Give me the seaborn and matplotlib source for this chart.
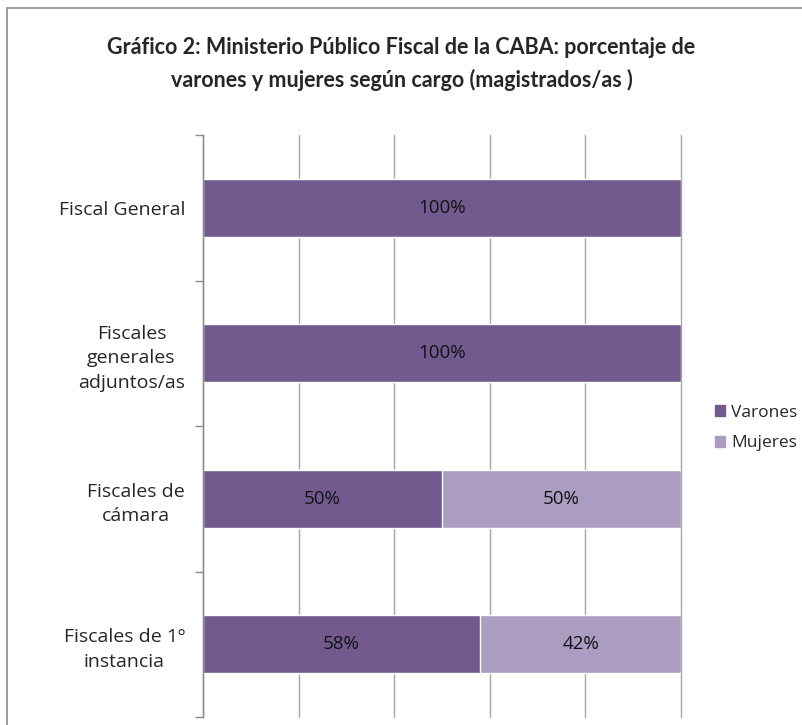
import pandas as pd
import numpy as np
import matplotlib
matplotlib.use("Agg")
import matplotlib.pyplot as plt
import seaborn as sns
from matplotlib.patches import Rectangle, Patch

# Data
cargos = ["Fiscal General",
          "Fiscales\ngenerales\nadjuntos/as",
          "Fiscales de\ncámara",
          "Fiscales de 1º\ninstancia"]
varones = [100, 100, 50, 58]
mujeres = [0, 0, 50, 42]

col_var = "#725a8f"
col_muj = "#ab9cc2"

sns.set_style("white")
plt.rcParams['font.family'] = ['Open Sans', 'DejaVu Sans']

df = pd.DataFrame({"cargo": cargos, "Varones": varones, "Mujeres": mujeres})
df["total"] = df["Varones"] + df["Mujeres"]

fig = plt.figure(figsize=(8.03, 7.25), dpi=100)
ax = fig.add_axes([203/803, 1 - 717/725, (681 - 203)/803, (717 - 135)/725])

# stacked: full bar in light colour, varones drawn over it
sns.barplot(data=df, y="cargo", x="total", color=col_muj, orient="h",
            width=0.4, saturation=1, ax=ax)
sns.barplot(data=df, y="cargo", x="Varones", color=col_var, orient="h",
            width=0.4, saturation=1, ax=ax)

for i, (v, m) in enumerate(zip(varones, mujeres)):
    if v > 0:
        ax.text(v / 2, i, f"{v}%", ha="center", va="center", fontsize=13.5, color="#111111")
    if m > 0:
        ax.text(v + m / 2, i, f"{m}%", ha="center", va="center", fontsize=13.5, color="#111111")

ax.set_xlim(0, 100)
ax.set_ylim(3.5, -0.5)
ax.set_xticks([0, 20, 40, 60, 80, 100])
ax.set_xticklabels([])
ax.tick_params(axis="x", length=0)
ax.xaxis.grid(True, color="#a6a6a6", linewidth=1)
for gl in ax.get_xgridlines():
    gl.set_clip_on(False)
ax.set_axisbelow(True)
ax.set_xlabel("")
ax.set_ylabel("")

# y axis: category labels, boundary ticks
ax.set_yticks(range(len(cargos)))
ax.set_yticklabels(cargos, fontsize=14, linespacing=1.45, multialignment="center")
ax.tick_params(axis="y", which="major", length=0, pad=13)
ax.set_yticks(np.arange(-0.5, len(cargos), 1.0), minor=True)
ax.tick_params(axis="y", which="minor", left=True, length=6, color="#8c8c8c", width=1)

for s in ["top", "right", "bottom"]:
    ax.spines[s].set_visible(False)
ax.spines["left"].set_color("#8c8c8c")
ax.spines["left"].set_linewidth(1)

fig.text(0.5, 1 - 47/725, "Gráfico 2: Ministerio Público Fiscal de la CABA: porcentaje de",
         ha="center", va="center", fontsize=15.5, fontweight="bold", family=["Lato", "DejaVu Sans"])
fig.text(0.5, 1 - 80/725, "varones y mujeres según cargo (magistrados/as )",
         ha="center", va="center", fontsize=15.5, fontweight="bold", family=["Lato", "DejaVu Sans"])

handles = [Patch(color=col_var, label="Varones"), Patch(color=col_muj, label="Mujeres")]
fig.legend(handles=handles, loc="center left", bbox_to_anchor=(708/803, 1 - 428/725),
           frameon=False, fontsize=12.5, handlelength=0.6, handleheight=0.6,
           handletextpad=0.35, labelspacing=0.85, borderaxespad=0)

fig.patches.append(Rectangle((7/803, -0.1), 1.2, 1 - 8/725 + 0.1, transform=fig.transFigure,
                             fill=False, edgecolor="#8c8c8c", linewidth=1.2))

fig.savefig("out.png", dpi=100)
